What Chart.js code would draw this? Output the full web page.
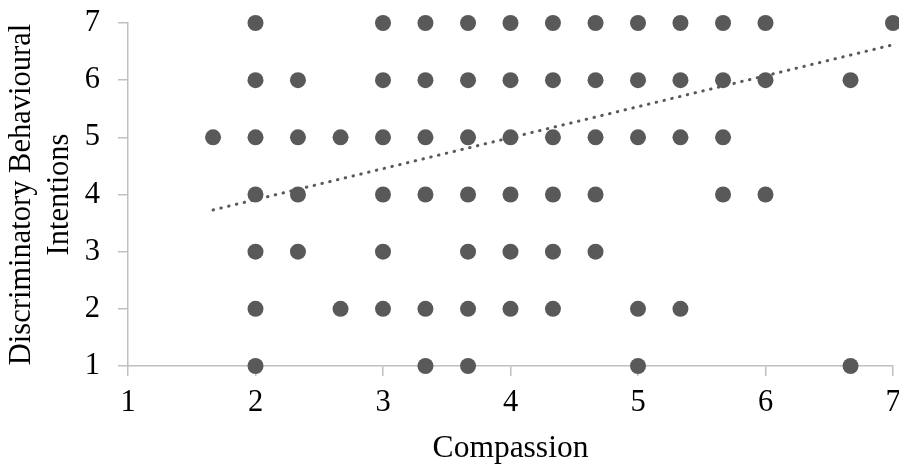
<!DOCTYPE html>
<html>
<head>
<meta charset="utf-8">
<title>Compassion vs Discriminatory Behavioural Intentions</title>
<script src="https://cdn.jsdelivr.net/npm/chart.js@4/dist/chart.umd.min.js"></script>
<style>
    html, body { margin: 0; padding: 0; background: #ffffff; }
    #wrap { width: 899px; height: 465px; position: relative; }
</style>
</head>
<body>
<div id="wrap"><canvas id="scatterChart"></canvas></div>
<script>
const compassionAt7 = [2, 3, 3.333, 3.667, 4, 4.333, 4.667, 5, 5.333, 5.667, 6, 7];
const compassionAt6 = [2, 2.333, 3, 3.333, 3.667, 4, 4.333, 4.667, 5, 5.333, 5.667, 6, 6.667];
const compassionAt5 = [1.667, 2, 2.333, 2.667, 3, 3.333, 3.667, 4, 4.333, 4.667, 5, 5.333, 5.667];
const compassionAt4 = [2, 2.333, 3, 3.333, 3.667, 4, 4.333, 4.667, 5.667, 6];
const compassionAt3 = [2, 2.333, 3, 3.667, 4, 4.333, 4.667];
const compassionAt2 = [2, 2.667, 3, 3.333, 3.667, 4, 4.333, 5, 5.333];
const compassionAt1 = [2, 3.333, 3.667, 5, 6.667];

// Linear trendline end points
const trendX = [1.667, 7];
const trendY = [3.73, 6.62];

// Axis ticks
const xTicks = [1, 2, 3, 4, 5, 6, 7];
const yTicks = [1, 2, 3, 4, 5, 6, 7];

const rows = [
    [7, compassionAt7], [6, compassionAt6], [5, compassionAt5], [4, compassionAt4],
    [3, compassionAt3], [2, compassionAt2], [1, compassionAt1]
];

const points = [];
rows.forEach(([level, xs]) => {
    xs.forEach(x => points.push({ x: x, y: level }));
});

const trendPoints = trendX.map((x, i) => ({ x: x, y: trendY[i] }));

const markColor = '#595959';
const axisColor = '#c0c0c0';
const serif = "'Liberation Serif', 'Times New Roman', serif";

const ctx = document.getElementById('scatterChart').getContext('2d');

new Chart(ctx, {
    type: 'scatter',
    data: {
        datasets: [
            {
                type: 'line',
                label: 'Linear trend',
                data: trendPoints,
                borderColor: markColor,
                borderWidth: 3,
                borderDash: [0.5, 7.5],
                borderCapStyle: 'round',
                pointRadius: 0,
                fill: false,
                tension: 0,
                clip: false,
                order: 0
            },
            {
                label: 'Responses',
                data: points,
                backgroundColor: markColor,
                borderWidth: 0,
                pointRadius: 8,
                pointHoverRadius: 8,
                clip: false,
                order: 1
            }
        ]
    },
    options: {
        responsive: true,
        maintainAspectRatio: false,
        animation: false,
        layout: {
            autoPadding: false,
            padding: { top: 23, right: 6, bottom: 0, left: 0 }
        },
        plugins: {
            legend: { display: false },
            tooltip: { enabled: false }
        },
        scales: {
            x: {
                type: 'linear',
                min: 1,
                max: 7,
                afterBuildTicks: (scale) => {
                    scale.ticks = xTicks.map(v => ({ value: v }));
                },
                afterFit: (scale) => {
                    scale.height = 99;
                    scale.paddingLeft = 0;
                    scale.paddingRight = 0;
                },
                border: { color: axisColor, width: 1.5 },
                grid: {
                    drawOnChartArea: false,
                    drawTicks: true,
                    tickLength: 10,
                    color: axisColor,
                    lineWidth: 1.5
                },
                ticks: {
                    color: '#000000',
                    padding: 9,
                    maxRotation: 0,
                    font: { family: serif, size: 30.5 }
                },
                title: {
                    display: true,
                    text: 'Compassion',
                    color: '#000000',
                    padding: 0,
                    font: { family: serif, size: 31.5, lineHeight: 1.05 }
                }
            },
            y: {
                type: 'linear',
                min: 1,
                max: 7,
                afterBuildTicks: (scale) => {
                    scale.ticks = yTicks.map(v => ({ value: v }));
                },
                afterFit: (scale) => {
                    scale.width = 128;
                    scale.paddingTop = 0;
                    scale.paddingBottom = 0;
                },
                border: { color: axisColor, width: 1.5 },
                grid: {
                    drawOnChartArea: false,
                    drawTicks: true,
                    tickLength: 10,
                    color: axisColor,
                    lineWidth: 1.5
                },
                ticks: {
                    color: '#000000',
                    padding: 18,
                    font: { family: serif, size: 30.5 }
                },
                title: {
                    display: true,
                    text: ['Discriminatory Behavioural', 'Intentions'],
                    color: '#000000',
                    padding: { top: 3, bottom: 0 },
                    font: { family: serif, size: 30.5, lineHeight: 1.24 }
                }
            }
        }
    }
});
</script>
</body>
</html>
